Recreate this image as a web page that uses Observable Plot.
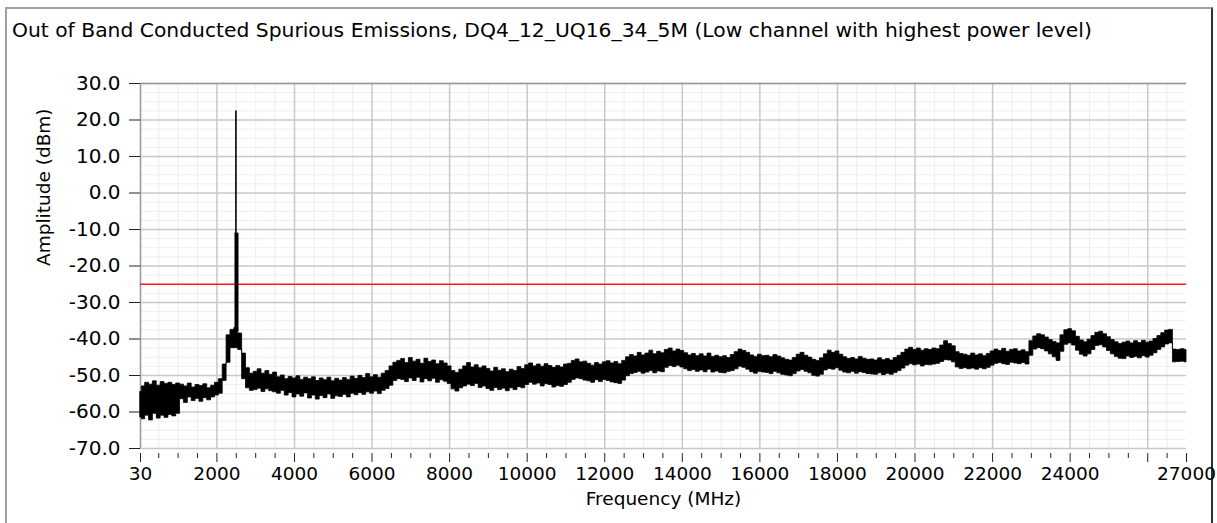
<!DOCTYPE html>
<html><head><meta charset="utf-8">
<script src="https://cdn.jsdelivr.net/npm/d3@7"></script>
<script src="https://cdn.jsdelivr.net/npm/@observablehq/plot@0.6"></script>
<style>
html,body{margin:0;padding:0;background:#fff;}
body{width:1217px;height:523px;position:relative;overflow:hidden;font-family:"DejaVu Sans",sans-serif;}
#frame{position:absolute;left:5px;top:7px;width:1204px;height:530px;border-left:2px solid #a0a0a0;border-top:2px solid #a0a0a0;border-right:2px solid #303030;}
#title{position:absolute;left:12px;top:18px;font-size:20.3px;color:#000;white-space:nowrap;}
#chart{position:absolute;left:0;top:50px;}
</style></head>
<body>
<div id="frame"></div>
<div id="title">Out of Band Conducted Spurious Emissions, DQ4_12_UQ16_34_5M (Low channel with highest power level)</div>
<div id="chart"></div>
<script>
const traceHigh = [
-54.5,-53.0,-52.0,-52.5,-51.6,-52.8,-51.8,-52.3,-52.0,-52.6,
-52.2,-52.5,-53.0,-52.2,-53.3,-52.6,-52.9,-52.4,-53.5,-52.8,
-52.0,-51.0,-47.0,-39.0,-37.5,-37.0,-38.5,-44.0,-48.0,-49.5,
-49.0,-48.3,-49.5,-48.8,-49.8,-49.2,-50.5,-50.0,-51.0,-50.4,
-50.8,-50.2,-51.2,-50.6,-51.0,-50.5,-51.5,-50.8,-51.3,-50.6,
-51.6,-50.9,-51.4,-50.7,-51.2,-50.3,-50.9,-50.1,-50.7,-49.6,
-50.5,-49.9,-50.6,-49.5,-48.8,-47.5,-46.5,-46.0,-45.5,-46.6,
-45.2,-46.2,-45.7,-46.8,-45.4,-46.3,-45.9,-46.9,-46.1,-46.7,
-47.5,-48.8,-49.3,-48.4,-47.5,-46.6,-47.8,-47.2,-48.0,-47.5,
-48.2,-48.9,-47.9,-48.7,-48.3,-49.1,-48.4,-48.8,-47.7,-48.2,
-47.2,-46.7,-47.5,-47.0,-47.6,-46.9,-47.4,-47.9,-47.4,-47.8,
-47.0,-46.8,-46.0,-45.6,-46.4,-46.2,-46.8,-47.3,-46.6,-47.0,
-46.4,-46.1,-46.7,-46.3,-46.9,-46.0,-45.0,-44.4,-44.8,-43.8,
-44.5,-44.0,-43.2,-44.2,-43.5,-43.9,-43.0,-42.6,-43.4,-42.9,
-43.3,-43.9,-44.5,-44.1,-44.7,-44.2,-44.8,-44.0,-44.9,-44.6,
-45.0,-44.7,-45.2,-44.4,-43.6,-42.9,-43.3,-43.8,-44.5,-44.9,
-44.3,-44.7,-44.6,-45.0,-44.4,-44.8,-45.3,-45.7,-45.9,-45.2,
-44.3,-43.8,-44.6,-45.1,-45.7,-46.0,-45.3,-44.2,-43.2,-43.8,
-43.4,-44.3,-45.0,-45.5,-45.2,-45.6,-44.9,-45.4,-45.7,-45.6,
-45.9,-45.3,-45.8,-45.5,-45.9,-45.2,-44.6,-43.8,-42.9,-42.4,
-43.0,-42.6,-43.2,-42.8,-43.0,-42.6,-42.8,-41.8,-40.6,-41.4,
-42.0,-43.6,-44.1,-44.3,-44.6,-44.0,-44.5,-44.2,-44.7,-44.1,
-43.4,-42.9,-43.3,-42.7,-43.5,-43.0,-42.8,-43.4,-43.1,-43.6,
-40.6,-39.3,-38.7,-39.0,-39.6,-40.3,-40.8,-41.2,-39.0,-37.6,
-37.3,-37.9,-39.4,-40.4,-40.9,-40.2,-39.2,-38.3,-38.0,-38.7,
-39.5,-40.3,-40.9,-41.4,-41.0,-40.7,-41.2,-40.6,-41.1,-40.5,
-41.0,-40.7,-40.0,-39.2,-38.4,-37.7,-37.5,-42.9,-43.0,-42.8,
-43.0
];
const traceLow = [
-61.5,-62.0,-61.0,-62.3,-60.5,-61.8,-61.0,-61.6,-60.8,-61.2,
-60.5,-56.5,-57.5,-56.0,-57.0,-56.4,-57.2,-56.2,-56.8,-56.0,
-55.5,-55.0,-51.5,-46.5,-42.5,-42.5,-43.0,-51.0,-53.5,-54.2,
-54.0,-53.6,-54.5,-53.8,-54.3,-54.6,-55.0,-54.2,-55.5,-54.8,
-56.0,-55.2,-55.8,-54.9,-56.3,-55.5,-56.6,-55.6,-56.2,-55.2,
-56.4,-55.7,-55.9,-55.3,-56.0,-55.0,-55.4,-54.8,-55.3,-54.6,
-55.0,-54.4,-55.1,-54.2,-53.7,-52.8,-51.5,-51.0,-51.2,-51.8,
-50.8,-51.5,-50.6,-51.9,-51.0,-51.6,-50.9,-52.0,-51.3,-51.7,
-52.3,-53.8,-54.4,-53.5,-53.0,-52.5,-52.9,-52.3,-53.4,-53.0,
-53.7,-54.2,-53.4,-54.0,-53.6,-54.3,-53.5,-54.0,-53.2,-53.5,
-52.6,-52.0,-52.5,-52.2,-53.0,-52.4,-52.6,-53.3,-52.9,-53.1,
-52.6,-52.0,-51.2,-50.8,-51.0,-51.4,-51.6,-52.0,-51.3,-51.8,
-51.2,-51.5,-51.9,-52.1,-52.3,-51.4,-50.2,-49.6,-49.3,-49.0,
-49.5,-49.2,-48.8,-49.4,-48.9,-49.1,-47.9,-47.4,-47.7,-47.3,
-47.8,-48.3,-48.8,-48.5,-49.0,-48.6,-49.1,-48.4,-49.2,-48.9,
-49.3,-49.4,-49.0,-48.8,-48.3,-47.6,-47.9,-48.4,-49.1,-49.5,
-49.0,-49.2,-49.3,-49.6,-49.0,-49.4,-49.8,-50.0,-50.2,-49.6,
-48.9,-48.5,-49.0,-49.4,-50.1,-50.3,-49.8,-48.6,-48.2,-48.4,
-48.0,-48.7,-49.2,-49.4,-49.0,-49.5,-49.1,-49.3,-49.6,-49.7,
-49.8,-49.4,-49.9,-49.5,-49.8,-49.3,-48.8,-48.1,-47.3,-46.9,
-47.2,-47.0,-47.5,-47.1,-47.2,-47.0,-46.8,-46.3,-45.8,-45.9,
-46.4,-47.8,-48.2,-48.0,-48.3,-48.1,-48.4,-48.0,-48.3,-47.9,
-47.3,-46.8,-46.6,-46.9,-47.1,-46.5,-46.7,-46.9,-46.6,-47.0,
-44.6,-42.9,-42.5,-42.8,-43.4,-44.2,-45.0,-46.0,-43.5,-41.6,
-41.2,-41.8,-43.2,-44.3,-44.8,-44.2,-43.0,-41.9,-41.7,-42.3,
-43.3,-44.2,-44.9,-45.4,-45.5,-44.8,-45.2,-44.9,-45.3,-44.7,
-45.1,-44.6,-43.9,-43.0,-42.3,-41.5,-41.2,-46.4,-46.3,-46.2,
-46.4
];
const sampleStartMHz = 30, sampleStepMHz = 100;

// Carrier spike
const spikeFreq = [2490, 2505];
const spikeTop = [22.5, -11.0];
const spikeBase = -38.0;

// Limit line
const limitDbm = -25;

// Axes
const yTicks = [30, 20, 10, 0, -10, -20, -30, -40, -50, -60, -70];
const xLabelTicks = [30, 2000, 4000, 6000, 8000, 10000, 12000, 14000, 16000, 18000, 20000, 22000, 24000, 27000];
const xGridMajor = [2000, 4000, 6000, 8000, 10000, 12000, 14000, 16000, 18000, 20000, 22000, 24000, 26000];
const xUnlabeledMajor = [26000];
const xMinorStep = 500;
const yMinorStep = 2.5;
const xTitle = "Frequency (MHz)";
const yTitle = "Amplitude (dBm)";

const trace = traceHigh.map((h, i) => ({
  f: i === 0 ? sampleStartMHz : i * sampleStepMHz,
  hi: h,
  lo: traceLow[i]
}));
const spikes = spikeFreq.map((f, i) => ({f, top: spikeTop[i], base: spikeBase}));
const xMinor = d3.range(xMinorStep, 27000, xMinorStep).filter(v => v % 2000 !== 0 && v !== 26000);
const yMinor = d3.range(-70, 30, yMinorStep).filter(v => v % 10 !== 0);

const chart = Plot.plot({
  width: 1217,
  height: 473,
  marginLeft: 140,
  marginRight: 31,
  marginTop: 33,
  marginBottom: 75,
  x: {domain: [30, 27000]},
  y: {domain: [-70, 30]},
  style: {fontFamily: "DejaVu Sans, sans-serif", fontSize: "18.5px", color: "#000", background: "transparent"},
  marks: [
    Plot.gridX(xMinor, {stroke: "#eeeeee", strokeOpacity: 1}),
    Plot.gridY(yMinor, {stroke: "#eeeeee", strokeOpacity: 1}),
    Plot.gridX(xGridMajor, {stroke: "#c8c8c8", strokeOpacity: 1, strokeWidth: 1.5}),
    Plot.gridY(yTicks, {stroke: "#c8c8c8", strokeOpacity: 1, strokeWidth: 1.5}),
    Plot.ruleX([30], {stroke: "#999999", strokeWidth: 1.5}),
    Plot.ruleY([30], {stroke: "#999999", strokeWidth: 1.5}),
    Plot.ruleY([limitDbm], {stroke: "#ff1a1a", strokeWidth: 1.5}),
    Plot.areaY(trace, {x: "f", y1: "lo", y2: "hi", curve: "step", fill: "#000", stroke: "#000", strokeWidth: 0.8}),
    Plot.ruleX([spikes[0]], {x: "f", y1: "base", y2: "top", stroke: "#000", strokeWidth: 1.6}),
    Plot.ruleX([spikes[1]], {x: "f", y1: "base", y2: "top", stroke: "#000", strokeWidth: 4}),
    Plot.axisY(yTicks, {tickSize: 11, tickPadding: 9, fontSize: 20, tickFormat: d => d.toFixed(1), label: null, stroke: "#222"}),
    Plot.axisX(xLabelTicks, {tickSize: 9, tickPadding: 4, dy: 5, tickFormat: d => String(d), label: null, stroke: "#222"}),
    Plot.axisX(xUnlabeledMajor, {tickSize: 9, dy: 5, tickFormat: () => "", label: null, stroke: "#222"}),
    Plot.axisX(xMinor, {tickSize: 5, dy: 5, tickFormat: () => "", label: null, stroke: "#222"}),
    Plot.text([yTitle], {frameAnchor: "left", rotate: -90, dx: -96, fill: "#000"}),
    Plot.text([xTitle], {frameAnchor: "bottom", dy: 56, fill: "#000"})
  ]
});
document.getElementById("chart").appendChild(chart);
</script>
</body></html>
